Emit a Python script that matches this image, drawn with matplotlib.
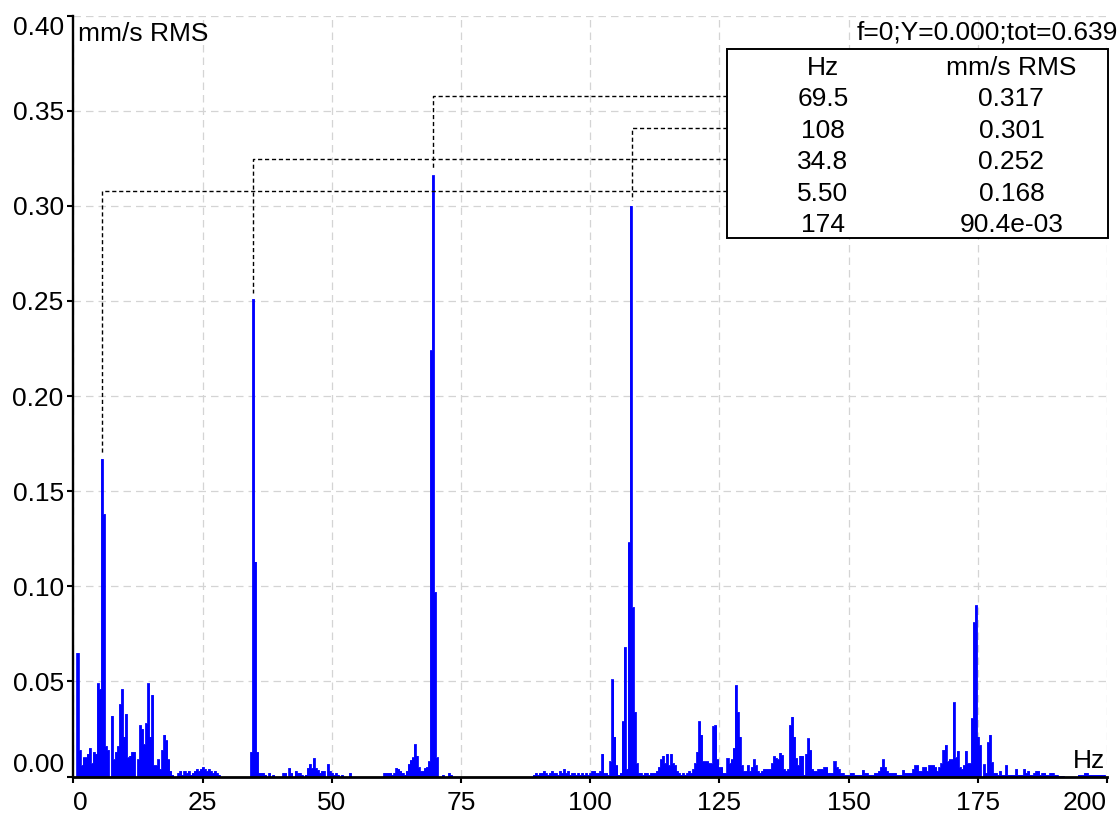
import numpy as np
import matplotlib
matplotlib.use("Agg")
import matplotlib.pyplot as plt
from matplotlib.patches import Rectangle

plt.rcParams['font.family'] = ['Liberation Sans', 'DejaVu Sans']

# ---------------- data ----------------
STEP = 200.0 / 512.0          # spectral line spacing (Hz)
N_LINES = 512

# amplitude bands: (first line index, amplitudes in mm/s RMS)
band_0_28_start = 0
band_0_28 = [0, 0, 0.065, 0.014, 0.006, 0.010, 0.010, 0.012, 0.015, 0.007,
             0.013, 0.012, 0.049, 0.046, 0.167, 0.138, 0.016, 0.014, 0.0, 0.032,
             0.009, 0.013, 0.016, 0.038, 0.046, 0.021, 0.033, 0.010, 0.011, 0.013,
             0.013, 0.0, 0.009, 0.027, 0.025, 0.017, 0.028, 0.049, 0.021, 0.043,
             0.006, 0.006, 0.009, 0.004, 0.014, 0.022, 0.019, 0.009, 0.003, 0.001,
             0.0, 0.0, 0.002, 0.003, 0.001, 0.003, 0.002, 0.003, 0.001, 0.002,
             0.003, 0.004, 0.003, 0.004, 0.005, 0.004, 0.003, 0.004, 0.003, 0.002,
             0.003, 0.002, 0.001]

band_34_54_start = 86
band_34_54 = [0.0, 0.0, 0.013, 0.251, 0.113, 0.013, 0.002, 0.002, 0.002, 0.001,
              0.0, 0.002, 0.0, 0.001, 0.0, 0.0, 0.0, 0.0, 0.002, 0.002,
              0.0, 0.0045, 0.002, 0.0, 0.003, 0.002, 0.002, 0.001, 0.0, 0.001,
              0.0045, 0.0066, 0.0045, 0.0097, 0.0045, 0.0035, 0.002, 0.003, 0.003, 0.0,
              0.0066, 0.003, 0.002, 0.001, 0.002, 0.001, 0.0, 0.001, 0.0, 0.0,
              0.0, 0.002]

band_60_74_start = 154
band_60_74 = [0.002, 0.002, 0.002, 0.002, 0.001, 0.002, 0.0045, 0.004, 0.003, 0.002,
              0.001, 0.003, 0.0066, 0.0087, 0.010, 0.017, 0.011, 0.005, 0.003, 0.003,
              0.0045, 0.005, 0.008, 0.224, 0.316, 0.097, 0.010, 0.0, 0.0, 0.001,
              0.0, 0.0, 0.002, 0.001]

band_89_101_start = 228
band_89_101 = [0.001, 0.002, 0.001, 0.002, 0.002, 0.003, 0.002, 0.001, 0.002, 0.003,
               0.002, 0.002, 0.001, 0.003, 0.002, 0.004, 0.002, 0.003, 0.001, 0.002,
               0.002, 0.001, 0.002, 0.001, 0.002, 0.001, 0.002, 0.001, 0.002, 0.003]

band_101_133_start = 258
band_101_133 = [0.003, 0.002, 0.002, 0.003, 0.012, 0.002, 0.002, 0.001, 0.008, 0.051,
                0.021, 0.006, 0.001, 0.002, 0.029, 0.068, 0.004, 0.123, 0.300, 0.089,
                0.034, 0.007, 0.002, 0.002, 0.001, 0.002, 0.002, 0.001, 0.002, 0.002,
                0.002, 0.003, 0.005, 0.009, 0.011, 0.007, 0.012, 0.006, 0.012, 0.007,
                0.006, 0.003, 0.002, 0.001, 0.002, 0.001, 0.002, 0.003, 0.002, 0.004,
                0.007, 0.013, 0.029, 0.022, 0.008, 0.008, 0.008, 0.007, 0.007, 0.0265,
                0.027, 0.009, 0.005, 0.005, 0.002, 0.002, 0.0097, 0.007, 0.009, 0.015,
                0.048, 0.034, 0.021, 0.006, 0.003, 0.003, 0.006, 0.003, 0.005, 0.009,
                0.006, 0.003, 0.002]

band_133_168_start = 341
band_133_168 = [0.003, 0.004, 0.004, 0.004, 0.004, 0.007, 0.0107, 0.0097, 0.009, 0.0126,
                0.0113, 0.004, 0.003, 0.004, 0.027, 0.0315, 0.021, 0.0097, 0.006, 0.011,
                0.011, 0.001, 0.012, 0.020, 0.014, 0.004, 0.003, 0.003, 0.004, 0.004,
                0.004, 0.005, 0.005, 0.002, 0.002, 0.002, 0.008, 0.005, 0.004, 0.002,
                0.002, 0.001, 0.001, 0.001, 0.002, 0.002, 0.001, 0.001, 0.001, 0.001,
                0.0035, 0.002, 0.002, 0.001, 0.001, 0.001, 0.002, 0.002, 0.003, 0.005,
                0.009, 0.005, 0.003, 0.002, 0.002, 0.002, 0.002, 0.001, 0.001, 0.001,
                0.0035, 0.002, 0.002, 0.002, 0.002, 0.004, 0.006, 0.006, 0.003, 0.003,
                0.005, 0.005, 0.003, 0.006, 0.006, 0.006, 0.005, 0.003, 0.005]

band_168_200_start = 430
band_168_200 = [0.007, 0.014, 0.0166, 0.008, 0.009, 0.009, 0.039, 0.010, 0.0135, 0.005,
                0.004, 0.006, 0.0135, 0.007, 0.007, 0.0306, 0.081, 0.090, 0.021, 0.0166,
                0.0, 0.0064, 0.002, 0.018, 0.022, 0.0075, 0.002, 0.002, 0.001, 0.003,
                0.001, 0.001, 0.006, 0.001, 0.001, 0.001, 0.001, 0.004, 0.001, 0.001,
                0.001, 0.004, 0.002, 0.003, 0.001, 0.001, 0.002, 0.003, 0.003, 0.001,
                0.002, 0.002, 0.001, 0.001, 0.002, 0.002, 0.001, 0.001, 0.0005, 0.0005,
                0.0005, 0.0, 0.0, 0.0, 0.0, 0.0, 0.0, 0.0, 0.001, 0.001,
                0.001, 0.002, 0.002, 0.001, 0.001, 0.001, 0.001, 0.001, 0.001, 0.001,
                0.001, 0.001]

# peak table
table_hz_text = ["69.5", "108", "34.8", "5.50", "174"]
table_amp_text = ["0.317", "0.301", "0.252", "0.168", "90.4e-03"]
peak_freqs = [69.5, 108.0, 34.8, 5.50, 174.0]
peak_amps = [0.316, 0.300, 0.251, 0.167, 0.090]

x_ticks = [0, 25, 50, 75, 100, 125, 150, 175, 200]
y_ticks = [0.00, 0.05, 0.10, 0.15, 0.20, 0.25, 0.30, 0.35, 0.40]

# ---------------- assemble spectrum ----------------
amps = np.zeros(N_LINES)
for start, vals in [(band_0_28_start, band_0_28), (band_34_54_start, band_34_54),
                    (band_60_74_start, band_60_74), (band_89_101_start, band_89_101),
                    (band_101_133_start, band_101_133), (band_133_168_start, band_133_168),
                    (band_168_200_start, band_168_200)]:
    vals = np.asarray(vals, dtype=float)
    n = min(len(vals), N_LINES - start)
    amps[start:start + n] = vals[:n]
freqs = np.arange(N_LINES) * STEP

# ---------------- figure ----------------
FS = 19
fig = plt.figure(figsize=(11.2, 8.16), dpi=100)
ax = fig.add_axes([0.0656, 0.0484, 0.9228, 0.9326])

ax.fill_between(freqs, amps, step='mid', color='#0000ff', lw=0, zorder=2)
ax.step(freqs, amps, where='mid', color='#0000ff', lw=0.6, zorder=2)

ax.set_xlim(0, 200)
ax.set_ylim(0, 0.40)
ax.set_xticks(x_ticks)
ax.set_yticks(y_ticks)
ax.set_xticklabels([str(t) for t in x_ticks])
ax.set_yticklabels([f"{t:.2f}" for t in y_ticks])
ax.tick_params(axis='both', labelsize=FS, colors='black', direction='out')
ax.tick_params(axis='x', length=4.5, width=1.5, pad=6)
ax.tick_params(axis='y', length=4, width=1.5, pad=3)
xl = ax.get_xticklabels()
xl[0].set_ha('left')
xl[-1].set_ha('right')
yl = ax.get_yticklabels()
yl[0].set_va('bottom')
yl[-1].set_va('top')

ax.set_axisbelow(True)
ax.grid(True, color='#d4d4d4', lw=0.9, ls=(0, (6, 4)))
for s in ['top', 'right']:
    ax.spines[s].set_visible(False)
ax.spines['left'].set_linewidth(1.7)
ax.spines['bottom'].set_linewidth(2.0)
ax.spines['left'].set_zorder(5)
ax.spines['bottom'].set_zorder(5)

# axis unit labels inside the plot
ax.text(0.9, 0.3905, "mm/s RMS", fontsize=FS, ha='left', va='center', zorder=6)
ax.text(199.6, 0.0080, "Hz", fontsize=FS, ha='right', va='center', zorder=6)
ax.text(151.5, 0.3910, "f=0;Y=0.000;tot=0.639", fontsize=FS, ha='left',
        va='center', zorder=6, clip_on=False)

# peak table
tab_left, tab_right = 126.45, 200.2
tab_bottom, tab_top = 0.2830, 0.3824
row_h = (tab_top - tab_bottom) / 6.0
TXT_DY = 0.0015
ax.add_patch(Rectangle((tab_left, tab_bottom), tab_right - tab_left, tab_top - tab_bottom,
                       facecolor='white', edgecolor='black', lw=1.4, zorder=7,
                       clip_on=False))
col_hz, col_amp = 145.0, 181.5
hdr_y = tab_top - 0.5 * row_h
ax.text(col_hz, hdr_y - TXT_DY, "Hz", fontsize=FS, ha='center', va='center', zorder=8)
ax.text(col_amp, hdr_y - TXT_DY, "mm/s RMS", fontsize=FS, ha='center', va='center', zorder=8)
for i, (ht, at) in enumerate(zip(table_hz_text, table_amp_text)):
    ry = tab_top - (i + 1.5) * row_h
    ax.text(col_hz, ry - TXT_DY, ht, fontsize=FS, ha='center', va='center', zorder=8)
    ax.text(col_amp, ry - TXT_DY, at, fontsize=FS, ha='center', va='center', zorder=8)
    pf, pa = peak_freqs[i], peak_amps[i]
    if pf < tab_left:
        ax.plot([tab_left, pf, pf], [ry, ry, pa + 0.003], color='black', lw=1.0,
                ls=(0, (3, 2)), zorder=4)

fig.savefig("out.png", dpi=100)
